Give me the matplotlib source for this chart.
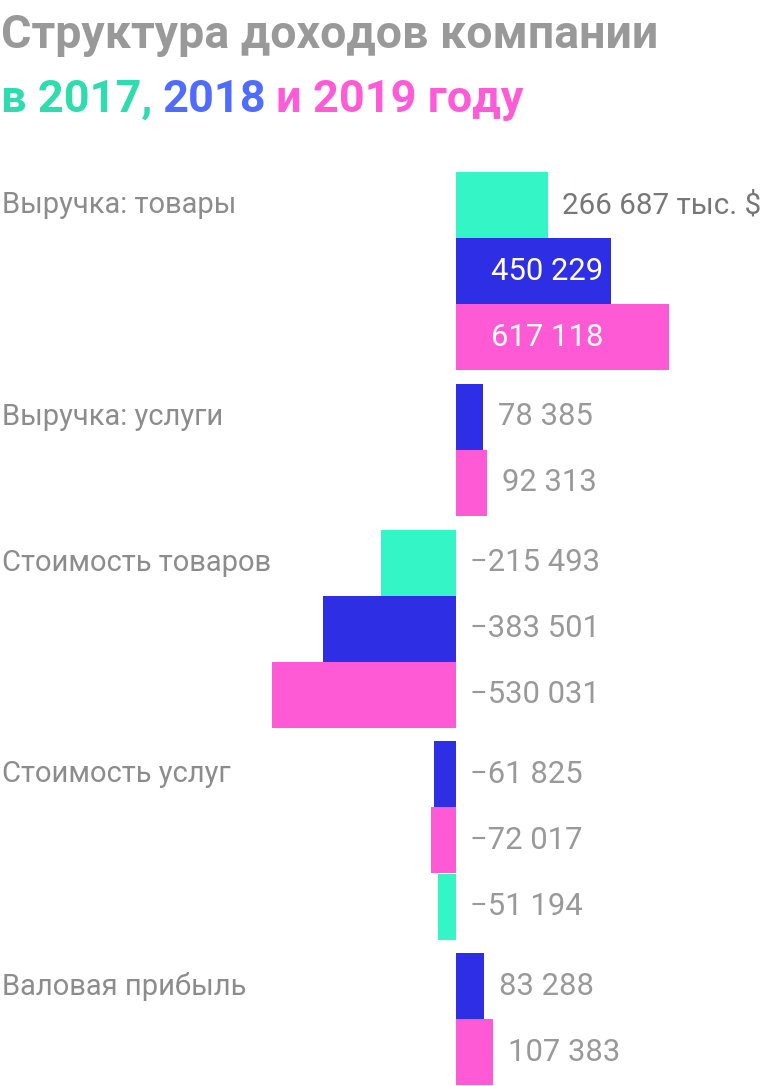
import matplotlib
matplotlib.use("Agg")
import matplotlib.pyplot as plt

plt.rcParams['font.family'] = ['Roboto', 'DejaVu Sans']

categories = ["Выручка: товары", "Выручка: услуги", "Стоимость товаров",
              "Стоимость услуг", "Валовая прибыль"]
group_years = [[2017, 2018, 2019],
               [2018, 2019],
               [2017, 2018, 2019],
               [2018, 2019, 2017],
               [2018, 2019]]
group_values = [[266687, 450229, 617118],
                [78385, 92313],
                [-215493, -383501, -530031],
                [-61825, -72017, -51194],
                [83288, 107383]]
unit_suffix = " тыс. $"

bar_colors = {2017: "#33f5c6", 2018: "#2e2ee4", 2019: "#ff5ad6"}
title_colors = {2017: "#2fdcb0", 2018: "#4f6cff", 2019: "#ff5ad8"}

W, H, DPI = 768, 1086, 100
zero_px = 455.5
px_per_unit = 0.000346
bar_h = 66.1
gap = 13.5
top = 172


def fmt(v):
    s = "{:,}".format(abs(v)).replace(",", " ")
    return ("\u2212" + s) if v < 0 else s


fig = plt.figure(figsize=(W / DPI, H / DPI), dpi=DPI)
ax = fig.add_axes([0, 0, 1, 1])
ax.set_xlim(-zero_px / px_per_unit, (W - zero_px) / px_per_unit)
ax.set_ylim(H, 0)
ax.axis("off")

unit = 1 / px_per_unit  # data units per pixel
y = top
first = True
for cat, years, vals in zip(categories, group_years, group_values):
    ys = [y + bar_h * (i + 0.5) for i in range(len(vals))]
    ax.barh(ys, vals, height=bar_h, left=0,
            color=[bar_colors[yr] for yr in years], linewidth=0)
    ax.text(2 * unit - zero_px * unit, ys[0], cat, fontsize=21,
            color="#8c8c8c", va="center", ha="left")
    for yc, v in zip(ys, vals):
        txt = fmt(v)
        if first:
            txt += unit_suffix
            ax.text(v + 14 * unit, yc, txt, fontsize=21.3, color="#777777",
                    va="center", ha="left")
        elif v > 400000:
            ax.text(35 * unit, yc, txt, fontsize=22.3, color="white",
                    va="center", ha="left")
        elif v > 0:
            ax.text(v + 15 * unit, yc, txt, fontsize=22.3, color="#999999",
                    va="center", ha="left")
        else:
            ax.text(14 * unit, yc, txt, fontsize=22.3, color="#999999",
                    va="center", ha="left")
        first = False
    y += bar_h * len(vals) + gap

# title
fig.text(1 / W, 1 - 35 / H, "Структура доходов компании", fontsize=33.5,
         fontweight="bold", color="#999999", va="center", ha="left")

renderer = fig.canvas.get_renderer()
pieces = [("в 2017,", title_colors[2017]),
          ("2018", title_colors[2018]),
          ("и 2019 году", title_colors[2019])]
x = 1
for s, c in pieces:
    t = fig.text(x / W, 1 - 100 / H, s, fontsize=32.5, fontweight="bold",
                 color=c, va="center", ha="left")
    bb = t.get_window_extent(renderer)
    x = bb.x1 + 10

fig.savefig("out.png", dpi=DPI)
